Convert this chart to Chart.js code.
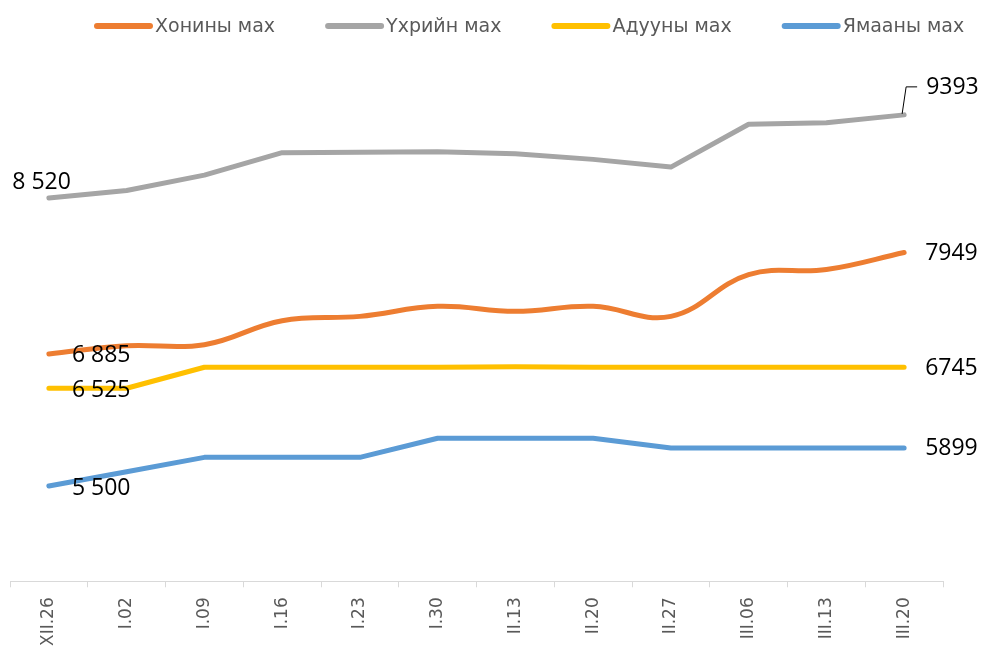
<!DOCTYPE html>
<html>
<head>
<meta charset="utf-8">
<script src="https://cdn.jsdelivr.net/npm/chart.js@4.4.1/dist/chart.umd.min.js"></script>
<style>
html,body{margin:0;padding:0;background:#fff;}
#wrap{width:981px;height:650px;position:relative;}
</style>
</head>
<body>
<div id="wrap"><canvas id="c" width="981" height="650"></canvas></div>
<script>
const categories = ['XII.26','I.02','I.09','I.16','I.23','I.30','II.13','II.20','II.27','III.06','III.13','III.20'];
const seriesNames = ['Хонины мах','Үхрийн мах','Адууны мах','Ямааны мах'];
const sheep  = [6885, 6971, 6982, 7234, 7279, 7384, 7332, 7384, 7279, 7718, 7770, 7949];
const cattle = [8520, 8600, 8761, 8996, 9000, 9006, 8985, 8926, 8845, 9294, 9311, 9393];
const horse  = [6525, 6525, 6745, 6745, 6745, 6745, 6750, 6745, 6745, 6745, 6745, 6745];
const goat   = [5500, 5650, 5800, 5800, 5800, 6000, 6000, 6000, 5899, 5899, 5899, 5899];
const colors = ['#ED7D31','#A5A5A5','#FFC000','#5B9BD5'];

function fmtSpace(v){ return String(v).replace(/\B(?=(\d{3})+(?!\d))/g,' '); }

const legendPlugin = {
  id:'customLegend',
  afterDraw(chart){
    const ctx = chart.ctx;
    ctx.save();
    ctx.font = '19px "DejaVu Sans"';
    ctx.textBaseline = 'middle';
    let x = 94; const y = 26;
    chart.data.datasets.forEach(ds=>{
      ctx.fillStyle = ds.borderColor;
      ctx.beginPath();
      ctx.roundRect(x, y-3, 59, 6, 3);
      ctx.fill();
      ctx.fillStyle = '#595959';
      ctx.textAlign = 'left';
      ctx.fillText(ds.label, x+61, y+1);
      x += 61 + ctx.measureText(ds.label).width + 50;
    });
    ctx.restore();
  }
};

const labelPlugin = {
  id:'endLabels',
  afterDatasetsDraw(chart){
    const ctx = chart.ctx;
    ctx.save();
    ctx.font = '23px "Open Sans"';
    ctx.fillStyle = '#000';
    ctx.textBaseline = 'middle';
    chart.data.datasets.forEach((ds,i)=>{
      const meta = chart.getDatasetMeta(i);
      const p0 = meta.data[0], pN = meta.data[meta.data.length-1];
      const ft = fmtSpace(ds.data[0]), lt = String(ds.data[ds.data.length-1]);
      if (i === 1) {
        ctx.textAlign = 'right';
        ctx.fillText(ft, p0.x+22, p0.y-16);
        ctx.textAlign = 'left';
        ctx.fillText(lt, pN.x+22, pN.y-27);
        ctx.strokeStyle = '#000'; ctx.lineWidth = 1;
        ctx.beginPath();
        ctx.moveTo(pN.x-2, pN.y-1);
        ctx.lineTo(pN.x+2, pN.y-28);
        ctx.lineTo(pN.x+13, pN.y-28);
        ctx.stroke();
      } else {
        ctx.textAlign = 'left';
        ctx.fillText(ft, p0.x+23, p0.y+2);
        ctx.fillText(lt, pN.x+21, pN.y+1);
      }
    });
    ctx.restore();
  }
};

const seriesData = [sheep, cattle, horse, goat];
const tensions = [0.4, 0, 0, 0];

new Chart(document.getElementById('c'), {
  type:'line',
  data:{
    labels: categories,
    datasets: seriesData.map((d,i)=>({
      label: seriesNames[i],
      data: d,
      borderColor: colors[i],
      backgroundColor: colors[i],
      borderWidth: 5,
      pointRadius: 0,
      borderCapStyle: 'round',
      borderJoinStyle: 'round',
      tension: tensions[i],
      fill: false
    }))
  },
  options:{
    responsive:false,
    animation:false,
    layout:{padding:{top:57,left:10,right:38,bottom:-6}},
    plugins:{legend:{display:false},tooltip:{enabled:false}},
    scales:{
      y:{display:false,min:4500,max:10000},
      x:{
        offset:true,
        grid:{offset:true,drawOnChartArea:false,drawTicks:true,tickLength:6,color:'#d9d9d9',lineWidth:1},
        border:{display:true,color:'#d9d9d9',width:1},
        ticks:{minRotation:90,maxRotation:90,padding:10,color:'#595959',font:{family:'DejaVu Sans',size:17}}
      }
    }
  },
  plugins:[legendPlugin,labelPlugin]
});
</script>
</body>
</html>
